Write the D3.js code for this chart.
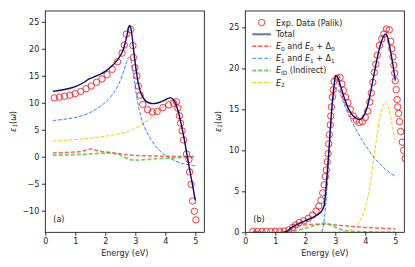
<!DOCTYPE html>
<html><head><meta charset="utf-8">
<script src="https://cdn.jsdelivr.net/npm/d3@7"></script>
<style>
html,body{margin:0;padding:0;background:#fff;}
svg{display:block;font-family:"DejaVu Sans",sans-serif;}
</style></head>
<body>
<script>
// ---------- data ----------
const xTicks = [0,1,2,3,4,5];
const yTicksA = [-10,-5,0,5,10,15,20,25];
const yTicksB = [0,5,10,15,20,25];

// panel (a): eps1
const expAx = [0.3,0.47,0.64,0.82,1.0,1.18,1.36,1.53,1.71,1.89,2.06,2.23,2.41,2.56,2.63,2.7,2.85,2.92,2.94,2.99,3.05,3.1,3.16,3.25,3.41,3.57,3.73,3.92,4.11,4.28,4.37,4.42,4.47,4.51,4.56,4.61,4.71,4.79,4.81,4.86,4.91,4.97,5.02];
const expAy = [10.9,11.05,11.2,11.4,11.7,12.1,12.6,13.1,13.8,14.4,15.2,16.2,17.6,19.2,20.7,22.7,23.6,20.6,18.4,16.5,15.0,13.1,11.4,9.7,8.7,8.3,8.4,9.1,9.6,9.9,10.2,9.0,7.6,6.2,4.8,3.1,0.5,-0.5,-2.8,-5.1,-8.2,-10.1,-11.7];

const totAx = [0.25,0.6,1.0,1.3,1.45,1.55,1.8,2.0,2.2,2.4,2.56,2.65,2.72,2.77,2.8,2.84,2.9,2.96,3.03,3.1,3.2,3.35,3.5,3.7,3.9,4.05,4.17,4.25,4.33,4.42,4.52,4.62,4.72,4.82,4.92,5.0];
const totAy = [12.1,12.4,13.0,13.8,14.4,14.6,15.2,15.8,16.7,17.9,19.3,20.8,22.4,23.8,24.3,24.0,22.0,19.0,16.0,13.6,11.6,10.3,9.9,9.9,10.3,10.7,10.9,10.7,10.0,8.6,6.3,3.6,0.5,-2.6,-5.6,-8.1];

const e1Ax = [0.25,0.7,1.1,1.5,1.8,2.1,2.35,2.5,2.62,2.72,2.78,2.84,2.9,2.97,3.05,3.15,3.3,3.5,3.7,3.9,4.1,4.35,4.6,4.8,5.0];
const e1Ay = [6.7,7.0,7.4,8.2,9.2,10.6,12.4,14.1,16.0,17.7,18.4,18.1,16.6,14.0,11.0,8.2,5.6,3.4,1.8,0.7,-0.1,-0.8,-1.3,-1.5,-1.7];

const e2Ax = [0.25,0.8,1.4,2.0,2.5,2.9,3.2,3.5,3.8,4.0,4.15,4.25,4.3,4.38,4.46,4.55,4.65,4.75,4.85,4.93,5.0];
const e2Ay = [2.9,3.1,3.4,3.8,4.3,5.0,5.9,7.1,8.6,9.6,10.3,10.6,10.4,9.4,7.6,5.1,2.3,-0.6,-3.6,-5.9,-7.7];

const e0Ax = [0.25,0.8,1.2,1.4,1.5,1.6,1.75,2.0,2.3,2.6,3.0,3.5,4.0,4.5,5.0];
const e0Ay = [0.7,0.8,1.0,1.3,1.45,1.35,1.1,0.9,0.7,0.45,0.25,0.15,0.1,0.05,0.05];

const idAx = [0.25,0.8,1.4,1.9,2.2,2.45,2.6,2.75,2.9,3.05,3.3,3.6,4.0,4.5,5.0];
const idAy = [0.3,0.35,0.5,0.65,0.65,0.4,0.05,-0.35,-0.6,-0.65,-0.55,-0.4,-0.3,-0.15,-0.05];

// panel (b): eps2
const expBx = [0.25,0.4,0.55,0.7,0.85,1.0,1.15,1.3,1.45,1.58,1.68,1.8,1.95,2.1,2.24,2.36,2.45,2.52,2.58,2.63,2.67,2.7,2.73,2.76,2.78,2.8,2.83,2.85,2.87,2.9,2.93,2.96,3.05,3.16,3.22,3.27,3.34,3.42,3.5,3.6,3.7,3.8,3.9,4.0,4.08,4.15,4.2,4.25,4.3,4.35,4.4,4.47,4.55,4.62,4.7,4.8,4.85,4.88,4.92,4.95,4.98,5.0,5.03,5.06,5.08,5.11,5.14,5.18,5.23,5.28,5.33];
const expBy = [0.1,0.1,0.1,0.1,0.1,0.1,0.1,0.15,0.3,0.6,0.9,1.2,1.4,1.7,2.1,2.6,3.2,3.9,4.8,5.8,6.8,7.6,8.6,9.6,10.8,11.9,13.1,14.2,15.3,16.5,17.4,18.4,18.8,18.9,18.1,17.3,16.5,15.8,15.0,14.2,13.7,13.4,13.5,14.0,14.8,15.9,17.0,18.3,19.5,20.5,21.6,22.8,23.6,24.2,24.8,24.7,23.3,22.4,21.4,20.4,19.4,18.5,17.4,16.2,15.3,14.5,13.5,12.3,11.0,10.0,9.0];

const totBx = [0.25,1.3,1.45,1.55,1.7,2.0,2.3,2.5,2.58,2.63,2.67,2.72,2.78,2.84,2.9,2.96,3.02,3.08,3.18,3.3,3.45,3.6,3.75,3.85,3.95,4.05,4.15,4.25,4.35,4.45,4.55,4.62,4.67,4.72,4.8,4.9,5.0];
const totBy = [0.0,0.0,0.3,0.6,0.9,1.4,1.9,2.4,2.8,3.3,4.6,6.8,9.6,12.9,15.8,17.9,19.1,18.9,17.8,16.4,15.0,14.2,13.8,13.8,14.2,15.1,16.6,18.5,20.4,22.1,23.4,24.0,24.2,24.0,22.9,20.9,18.5];

const e1Bx = [2.55,2.6,2.65,2.7,2.75,2.8,2.86,2.93,3.0,3.06,3.15,3.3,3.5,3.7,3.9,4.1,4.3,4.5,4.7,4.85,5.0];
const e1By = [0.0,0.8,2.2,4.3,7.0,10.1,13.5,16.4,17.5,17.6,17.0,15.6,13.9,12.5,11.2,10.1,9.1,8.3,7.6,7.2,6.8];

const e2Bx = [0.25,1.0,2.0,2.8,3.2,3.45,3.6,3.75,3.9,4.0,4.1,4.2,4.3,4.4,4.5,4.58,4.67,4.75,4.85,4.93,5.0];
const e2By = [0.0,0.0,0.0,0.0,0.05,0.2,0.5,1.0,2.0,3.0,4.6,6.8,9.4,12.1,14.3,15.4,15.9,15.5,13.9,12.4,11.2];

const e0Bx = [1.4,1.5,1.6,1.8,2.0,2.3,2.6,2.8,3.0,3.3,3.6,4.0,4.5,5.0];
const e0By = [0.0,0.35,0.6,0.8,0.9,0.97,1.0,0.97,0.9,0.8,0.7,0.6,0.5,0.42];

const idBx = [1.4,1.6,1.9,2.2,2.45,2.62,2.75,2.9,3.05,3.25,3.5,3.8,4.2,4.6,5.0];
const idBy = [0.0,0.15,0.4,0.7,0.95,1.12,1.05,0.8,0.55,0.3,0.15,0.08,0.04,0.02,0.0];

// ---------- drawing ----------
const W = 415, H = 267;
const svg = d3.select("body").append("svg").attr("width", W).attr("height", H);

const axTop = 11, axBottom = 232.3;
const colors = {exp:"#e8252a", tot:"#0b0b6e", e0:"#ff3320", e1:"#2f86e6", id:"#46c23c", e2:"#f5cc10", legTot:"#6d6db4"};
const zip = (xs, ys) => xs.map((x, i) => [x, ys[i]]);

function panel(id, left, right, ydom, yticks, series, exp, label) {
  const x = d3.scaleLinear().domain([0, 5.3]).range([left, right]);
  const y = d3.scaleLinear().domain(ydom).range([axBottom, axTop]);
  const g = svg.append("g");
  svg.append("clipPath").attr("id", "clip" + id).append("rect")
    .attr("x", left).attr("y", axTop).attr("width", right - left).attr("height", axBottom - axTop);
  const plot = g.append("g").attr("clip-path", `url(#clip${id})`);
  const line = d3.line().x(d => x(d[0])).y(d => y(d[1])).curve(d3.curveCatmullRom.alpha(0.5));

  series.forEach(s => {
    if (s.total) return;
    plot.append("path").datum(zip(s.xs, s.ys)).attr("d", line)
      .attr("fill", "none").attr("stroke", s.color).attr("stroke-width", s.w)
      .attr("stroke-opacity", s.op || 1)
      .attr("stroke-dasharray", s.dash || null);
  });
  plot.selectAll("circle.exp").data(zip(exp[0], exp[1])).enter().append("circle")
    .attr("class", "exp")
    .attr("cx", d => x(d[0])).attr("cy", d => y(d[1])).attr("r", 3.2)
    .attr("fill", "none").attr("stroke", colors.exp).attr("stroke-width", 0.9);
  const tot = series.find(s => s.total);
  plot.append("path").datum(zip(tot.xs, tot.ys)).attr("d", line)
    .attr("fill", "none").attr("stroke", tot.color).attr("stroke-width", tot.w);

  const xa = g.append("g").attr("transform", `translate(0,${axBottom})`)
    .call(d3.axisBottom(x).tickValues(xTicks).tickSize(3.5).tickPadding(2.5).tickFormat(d3.format("d")));
  const ya = g.append("g").attr("transform", `translate(${left},0)`)
    .call(d3.axisLeft(y).tickValues(yticks).tickSize(3.5).tickPadding(2.5).tickFormat(d => d < 0 ? "\u2212" + Math.abs(d) : d));
  [xa, ya].forEach(a => {
    a.select(".domain").remove();
    a.selectAll("line").attr("stroke", "#000").attr("stroke-width", 0.8);
    a.selectAll("text").attr("font-size", 8).attr("fill", "#222").attr("font-family", "DejaVu Sans");
  });
  g.append("rect").attr("x", left).attr("y", axTop).attr("width", right - left).attr("height", axBottom - axTop)
    .attr("fill", "none").attr("stroke", "#000").attr("stroke-width", 0.8);

  g.append("text").attr("x", (left + right) / 2).attr("y", 256).attr("text-anchor", "middle")
    .attr("font-size", 8).attr("fill", "#222").text("Energy (eV)");
  g.append("text").attr("x", left + 8).attr("y", 221.5).attr("font-size", 8).attr("fill", "#222").text(label);
  return {x, y, g};
}

const dash = "3.7,1.6";
const pa = panel("a", 45.3, 204.3, [-14, 27], yTicksA, [
  {xs: e0Ax, ys: e0Ay, color: colors.e0, w: 1.5, op: 0.75, dash: "4,2"},
  {xs: idAx, ys: idAy, color: colors.id, w: 1.8, op: 0.75, dash: "4,2"},
  {xs: e2Ax, ys: e2Ay, color: colors.e2, w: 1, dash: dash},
  {xs: e1Ax, ys: e1Ay, color: colors.e1, w: 1, dash: dash},
  {xs: totAx, ys: totAy, color: colors.tot, w: 1.4, total: true}
], [expAx, expAy], "(a)");

const pb = panel("b", 245.3, 404.3, [0, 27], yTicksB, [
  {xs: e0Bx, ys: e0By, color: colors.e0, w: 1.5, op: 0.75, dash: "4,2"},
  {xs: idBx, ys: idBy, color: colors.id, w: 1.8, op: 0.75, dash: "4,2"},
  {xs: e2Bx, ys: e2By, color: colors.e2, w: 1, dash: dash},
  {xs: e1Bx, ys: e1By, color: colors.e1, w: 1, dash: dash},
  {xs: totBx, ys: totBy, color: colors.tot, w: 1.4, total: true}
], [expBx, expBy], "(b)");

function ylabel(cx, sub) {
  const t = svg.append("text").attr("transform", `translate(${cx},121.5) rotate(-90)`)
    .attr("text-anchor", "middle").attr("font-size", 8).attr("fill", "#222");
  t.append("tspan").attr("font-style", "italic").text("\u03b5");
  t.append("tspan").attr("font-size", 5.8).attr("dy", 1.8).text(sub);
  t.append("tspan").attr("dy", -1.8).text("(");
  t.append("tspan").attr("font-style", "italic").text("\u03c9");
  t.append("tspan").text(")");
}
ylabel(15.5, "1");
ylabel(220.5, "2");

const legX0 = 252.3, legX1 = 271, legT = 276;
const rows = [22.5, 34.3, 46.2, 58.3, 70.4, 82.5];
const lg = svg.append("g").attr("font-size", 8).attr("fill", "#222");
lg.append("circle").attr("cx", (legX0 + legX1) / 2).attr("cy", rows[0]).attr("r", 3.2)
  .attr("fill", "none").attr("stroke", colors.exp).attr("stroke-width", 0.9);
lg.append("line").attr("x1", legX0).attr("x2", legX1).attr("y1", rows[1]).attr("y2", rows[1])
  .attr("stroke", colors.legTot).attr("stroke-width", 2);
[[colors.e0, 1.5, 0.85], [colors.e1, 1.1, 1], [colors.id, 2, 0.8], [colors.e2, 1.1, 1]].forEach((c, i) => {
  lg.append("line").attr("x1", legX0).attr("x2", legX1).attr("y1", rows[i + 2]).attr("y2", rows[i + 2])
    .attr("stroke", c[0]).attr("stroke-width", c[1]).attr("stroke-opacity", c[2]).attr("stroke-dasharray", "4,2");
});
function legText(i, parts) {
  const t = lg.append("text").attr("x", legT).attr("y", rows[i] + 3);
  parts.forEach(p => {
    const s = t.append("tspan").text(p.t);
    if (p.it) s.attr("font-style", "italic");
    if (p.sub) s.attr("font-size", 5.8).attr("dy", 1.8);
    if (p.up) s.attr("dy", -1.8);
  });
}
legText(0, [{t: "Exp. Data (Palik)"}]);
legText(1, [{t: "Total"}]);
legText(2, [{t: "E", it: 1}, {t: "0", sub: 1}, {t: " and ", up: 1}, {t: "E", it: 1}, {t: "0", sub: 1}, {t: " + \u0394", up: 1}, {t: "0", sub: 1}]);
legText(3, [{t: "E", it: 1}, {t: "1", sub: 1}, {t: " and ", up: 1}, {t: "E", it: 1}, {t: "1", sub: 1}, {t: " + \u0394", up: 1}, {t: "1", sub: 1}]);
legText(4, [{t: "E", it: 1}, {t: "ID", sub: 1}, {t: " (Indirect)", up: 1}]);
legText(5, [{t: "E", it: 1}, {t: "2", sub: 1}]);
</script>
</body></html>
